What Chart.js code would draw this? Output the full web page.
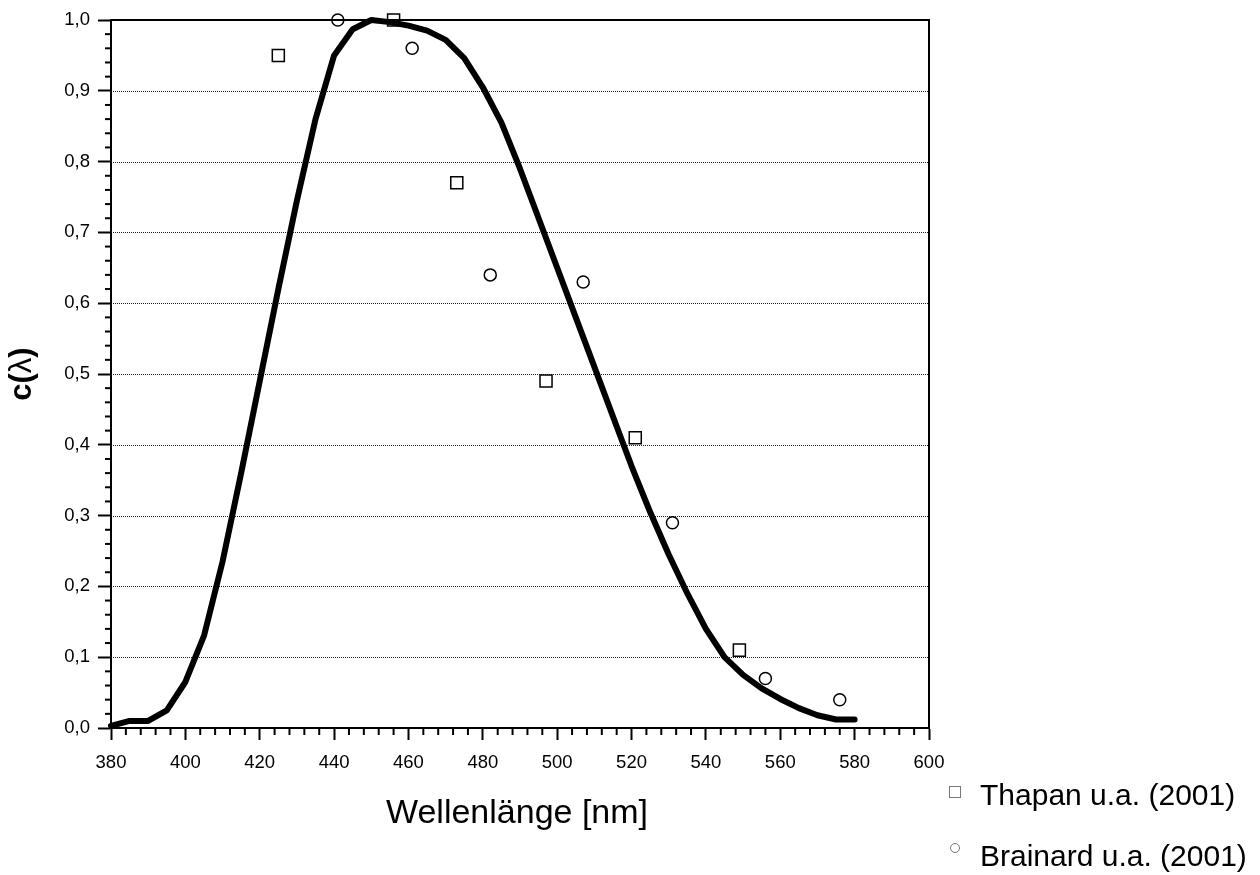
<!DOCTYPE html>
<html>
<head>
<meta charset="utf-8">
<script src="https://cdn.jsdelivr.net/npm/chart.js@4"></script>
<style>
  html, body { margin: 0; padding: 0; background: #fff; }
  #wrap { position: relative; width: 1260px; height: 875px; }
</style>
</head>
<body>
<div id="wrap"><canvas id="chart" width="1260" height="875"></canvas></div>
<script>
// Kurve c(lambda)
const wellenlaenge = [380, 385, 390, 395, 400, 405, 410, 415, 420, 425, 430, 435, 440, 445, 450, 455, 460, 465, 470, 475,
                      480, 485, 490, 495, 500, 505, 510, 515, 520, 525, 530, 535, 540, 545, 550, 555, 560, 565, 570, 575, 580];
const cWerte = [0.003, 0.01, 0.01, 0.025, 0.065, 0.13, 0.235, 0.36, 0.49, 0.62, 0.745, 0.86, 0.95, 0.987, 1.0, 0.997, 0.992, 0.985, 0.972, 0.946,
                0.905, 0.855, 0.79, 0.72, 0.65, 0.58, 0.51, 0.44, 0.37, 0.305, 0.245, 0.19, 0.14, 0.1, 0.075, 0.056, 0.041, 0.028, 0.018, 0.012, 0.012];

// Messpunkte
const thapanX = [425, 456, 473, 497, 521, 549];
const thapanY = [0.95, 1.0, 0.77, 0.49, 0.41, 0.11];
const brainardX = [441, 461, 482, 507, 531, 556, 576];
const brainardY = [1.0, 0.96, 0.64, 0.63, 0.29, 0.07, 0.04];

const xMajor = [380, 400, 420, 440, 460, 480, 500, 520, 540, 560, 580, 600];
const yGrid = [0.1, 0.2, 0.3, 0.4, 0.5, 0.6, 0.7, 0.8, 0.9];

const FONT = '"Liberation Sans", Arial, Helvetica, sans-serif';

function toPoints(xs, ys) {
    return xs.map((x, i) => ({ x: x, y: ys[i] }));
}

// Raster, Rahmen, Nebenstriche, Achsentitel und Legende
const extrasPlugin = {
    id: 'extras',
    beforeDatasetsDraw(chart) {
        const ctx = chart.ctx;
        const a = chart.chartArea;
        const xs = chart.scales.x, ys = chart.scales.y;
        ctx.save();
        // gepunktete Gitterlinien
        ctx.strokeStyle = '#222';
        ctx.lineWidth = 1;
        ctx.setLineDash([1, 1]);
        yGrid.forEach(v => {
            const py = Math.round(ys.getPixelForValue(v)) + 0.5;
            ctx.beginPath();
            ctx.moveTo(a.left, py);
            ctx.lineTo(a.right, py);
            ctx.stroke();
        });
        ctx.setLineDash([]);
        // Rahmen
        ctx.strokeStyle = '#000';
        ctx.lineWidth = 2;
        ctx.strokeRect(a.left, a.top, a.right - a.left, a.bottom - a.top);
        // Nebenstriche
        for (let v = 0; v <= 1.0001; v += 0.02) {
            const major = Math.abs(v * 10 - Math.round(v * 10)) < 0.001;
            if (major) continue;
            const py = ys.getPixelForValue(v);
            ctx.beginPath();
            ctx.moveTo(a.left - 6, py);
            ctx.lineTo(a.left, py);
            ctx.stroke();
        }
        for (let v = 380; v <= 600; v += 4) {
            if (v % 20 === 0) continue;
            const px = xs.getPixelForValue(v);
            ctx.beginPath();
            ctx.moveTo(px, a.bottom);
            ctx.lineTo(px, a.bottom + 7);
            ctx.stroke();
        }
        ctx.restore();
    },
    afterDraw(chart) {
        const ctx = chart.ctx;
        ctx.save();
        ctx.fillStyle = '#000';
        // x-Titel
        ctx.font = '34px ' + FONT;
        ctx.textAlign = 'center';
        ctx.textBaseline = 'alphabetic';
        ctx.fillText('Wellenlänge [nm]', 517, 823);
        // y-Titel: c und Klammern fett, Lambda normal
        ctx.translate(31, 374);
        ctx.rotate(-Math.PI / 2);
        const parts = [['c(', 'bold 31px '], ['λ', '31px '], [')', 'bold 31px ']];
        let total = 0;
        parts.forEach(p => { ctx.font = p[1] + FONT; total += ctx.measureText(p[0]).width; });
        let xx = -total / 2;
        ctx.textAlign = 'left';
        parts.forEach(p => {
            ctx.font = p[1] + FONT;
            ctx.fillText(p[0], xx, 0);
            xx += ctx.measureText(p[0]).width;
        });
        ctx.restore();

        // Legende
        ctx.save();
        ctx.strokeStyle = '#777';
        ctx.lineWidth = 1;
        ctx.strokeRect(949.5, 786.5, 11, 11);
        ctx.beginPath();
        ctx.arc(955, 848, 4.5, 0, Math.PI * 2);
        ctx.stroke();
        ctx.fillStyle = '#000';
        ctx.font = '30px ' + FONT;
        ctx.textAlign = 'left';
        ctx.textBaseline = 'alphabetic';
        ctx.fillText(chart.data.datasets[1].label, 980, 805);
        ctx.fillText(chart.data.datasets[2].label, 980, 866);
        ctx.restore();
    }
};

new Chart(document.getElementById('chart'), {
    type: 'scatter',
    data: {
        datasets: [
            {
                type: 'line',
                label: 'c(λ)',
                data: toPoints(wellenlaenge, cWerte),
                borderColor: '#000',
                borderWidth: 6,
                pointRadius: 0,
                tension: 0,
                fill: false,
                clip: false,
                borderCapStyle: 'round',
                borderJoinStyle: 'round',
                order: 2
            },
            {
                label: 'Thapan u.a. (2001)',
                data: toPoints(thapanX, thapanY),
                pointStyle: 'rect',
                pointRadius: 8.5,
                pointBorderWidth: 1.5,
                pointBorderColor: '#000',
                pointBackgroundColor: 'rgba(255,255,255,0)',
                showLine: false,
                clip: false,
                order: 1
            },
            {
                label: 'Brainard u.a. (2001)',
                data: toPoints(brainardX, brainardY),
                pointStyle: 'circle',
                pointRadius: 6,
                pointBorderWidth: 1.5,
                pointBorderColor: '#000',
                pointBackgroundColor: 'rgba(255,255,255,0)',
                showLine: false,
                clip: false,
                order: 1
            }
        ]
    },
    options: {
        responsive: false,
        animation: false,
        events: [],
        layout: { padding: { left: 0, top: 20, right: 331, bottom: 0 } },
        plugins: { legend: { display: false }, tooltip: { enabled: false } },
        scales: {
            x: {
                type: 'linear',
                min: 380,
                max: 600,
                afterBuildTicks: s => { s.ticks = xMajor.map(v => ({ value: v })); },
                afterFit: s => { s.height = 147; },
                grid: { display: true, drawOnChartArea: false, drawTicks: true, tickLength: 12, tickWidth: 2, tickColor: '#000' },
                border: { display: true, color: '#000', width: 2 },
                ticks: { color: '#000', font: { family: FONT, size: 18.5 }, padding: 12, maxRotation: 0 }
            },
            y: {
                min: 0,
                max: 1,
                ticks: {
                    stepSize: 0.1,
                    color: '#000',
                    font: { family: FONT, size: 18.5 },
                    padding: 8,
                    callback: v => v.toFixed(1).replace('.', ',')
                },
                afterFit: s => { s.width = 111; },
                grid: { display: true, drawOnChartArea: false, drawTicks: true, tickLength: 13, tickWidth: 2, tickColor: '#000' },
                border: { display: true, color: '#000', width: 2 }
            }
        }
    },
    plugins: [extrasPlugin]
});
</script>
</body>
</html>
